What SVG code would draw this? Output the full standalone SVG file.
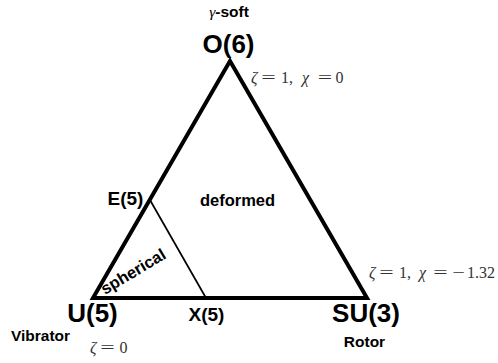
<svg xmlns="http://www.w3.org/2000/svg" width="498" height="363" viewBox="0 0 498 363">
<style>
.b{font-family:"Liberation Sans",Arial,sans-serif;font-weight:bold;fill:#000}
.m{font-family:"Liberation Serif","Times New Roman",serif;fill:#333;font-size:16px}
.i{font-style:italic}
.eq{text-anchor:middle}
</style>
<rect width="498" height="363" fill="#fff"/>
<g id="connectors" fill="none" stroke="#000" stroke-linejoin="miter">
<polygon points="230,61 93,298 367,298" stroke-width="4"/>
<line x1="150" y1="200" x2="206" y2="298" stroke-width="1.7"/>
</g>
<g id="O6">
<text class="b" x="229" y="17" font-size="15.5" text-anchor="middle"><tspan font-family="Liberation Serif,serif" font-style="italic" font-weight="normal">γ</tspan>-soft</text>
<text class="b" x="228.5" y="53" font-size="26" text-anchor="middle">O(6)</text>
<text class="m" y="83"><tspan class="i" x="251">ζ</tspan><tspan x="281">1,</tspan><tspan class="i" x="302">χ</tspan><tspan x="335.5">0</tspan></text>
<text class="m eq" transform="translate(268.5,83) scale(1.6,1)">=</text>
<text class="m eq" transform="translate(325,83) scale(1.6,1)">=</text>
</g>
<g id="E5"><text class="b" x="125.5" y="205" font-size="19" text-anchor="middle">E(5)</text></g>
<g id="deformed"><text class="b" x="237.5" y="206" font-size="16.5" text-anchor="middle">deformed</text></g>
<g id="spherical"><text class="b" font-size="16.5" transform="translate(105,295) rotate(-31)">spherical</text></g>
<g id="U5">
<text class="b" x="92.5" y="322" font-size="26" text-anchor="middle">U(5)</text>
<text class="b" x="40.5" y="341" font-size="15.5" text-anchor="middle">Vibrator</text>
<text class="m" y="353"><tspan class="i" x="90">ζ</tspan><tspan x="119.5">0</tspan></text>
<text class="m eq" transform="translate(107.5,353) scale(1.6,1)">=</text>
</g>
<g id="X5"><text class="b" x="206.5" y="321" font-size="19" text-anchor="middle">X(5)</text></g>
<g id="SU3">
<text class="b" x="366" y="322" font-size="26" text-anchor="middle">SU(3)</text>
<text class="b" x="364.5" y="347" font-size="15.5" text-anchor="middle">Rotor</text>
<text class="m" y="278"><tspan class="i" x="369">ζ</tspan><tspan x="399">1,</tspan><tspan class="i" x="419">χ</tspan><tspan x="467">1.32</tspan></text>
<text class="m eq" transform="translate(386.5,278) scale(1.6,1)">=</text>
<text class="m eq" transform="translate(440.5,278) scale(1.6,1)">=</text>
<text class="m eq" transform="translate(458.5,278) scale(1.4,1)">−</text>
</g>
</svg>
